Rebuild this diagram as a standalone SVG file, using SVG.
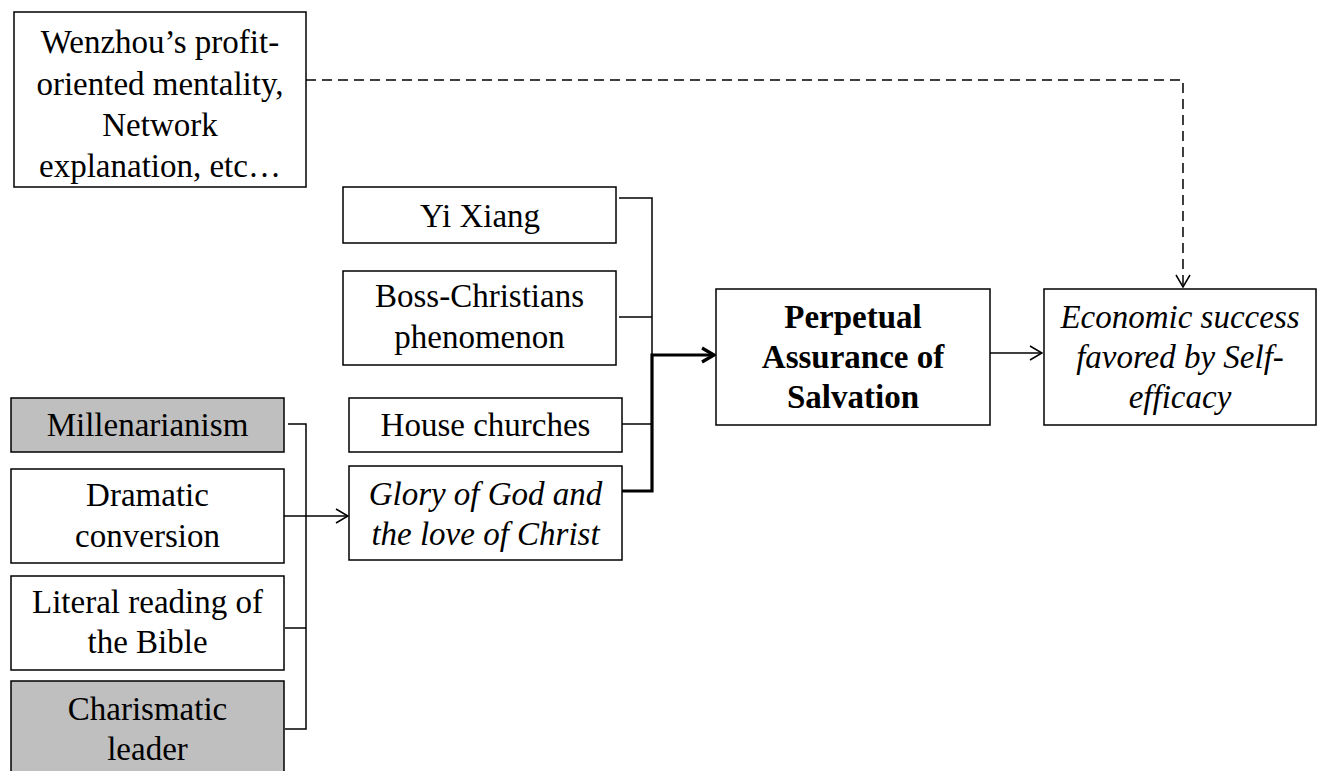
<svg xmlns="http://www.w3.org/2000/svg" width="1319" height="771" viewBox="0 0 1319 771">
<style>
.box{fill:#fff;stroke:#000;stroke-width:1.5}
.gray{fill:#bfbfbf}
.t{font-family:"Liberation Serif","Times New Roman",serif;font-size:33px;fill:#000;text-anchor:middle}
.b{font-weight:bold}
.i{font-style:italic}
.c{fill:none;stroke:#000;stroke-width:1.5}
.thick{fill:none;stroke:#000;stroke-width:3.2}
.dash{fill:none;stroke:#000;stroke-width:1.5;stroke-dasharray:10 6}
</style>
<defs>
<marker id="arr" markerUnits="userSpaceOnUse" viewBox="0 0 14 16" refX="13" refY="8" markerWidth="14" markerHeight="16" orient="auto"><path d="M1,1 L13,8 L1,15" fill="none" stroke="#000" stroke-width="1.5"/></marker>
<marker id="arrT" markerUnits="userSpaceOnUse" viewBox="0 0 16 18" refX="14" refY="9" markerWidth="16" markerHeight="18" orient="auto"><path d="M2,2 L14,9 L2,16" fill="none" stroke="#000" stroke-width="3.2"/></marker>
</defs>
<rect width="1319" height="771" fill="#fff"/>
<g id="connectors">
<path class="dash" d="M306,80 H1183 V287" marker-end="url(#arr)"/>
<path class="c" d="M619,198 H652 V355"/>
<path class="c" d="M619,317 H652"/>
<path class="c" d="M622,424 H652"/>
<path class="thick" d="M622,491 H652 V355 H714" marker-end="url(#arrT)"/>
<path class="c" d="M990,353 H1042" marker-end="url(#arr)"/>
<path class="c" d="M288,424 H306 V729 H285"/>
<path class="c" d="M285,628 H306"/>
<path class="c" d="M284,516 H348" marker-end="url(#arr)"/>
</g>
<g id="wenzhou">
<rect class="box" x="14" y="12" width="292" height="175"/>
<text class="t" x="160" y="53">Wenzhou’s profit-</text>
<text class="t" x="160" y="94.5">oriented mentality,</text>
<text class="t" x="160" y="136">Network</text>
<text class="t" x="160" y="177">explanation, etc…</text>
</g>
<g id="yixiang">
<rect class="box" x="343" y="187" width="273" height="56"/>
<text class="t" x="480" y="227">Yi Xiang</text>
</g>
<g id="boss">
<rect class="box" x="343" y="271" width="273" height="94"/>
<text class="t" x="479.5" y="307">Boss-Christians</text>
<text class="t" x="479.5" y="348">phenomenon</text>
</g>
<g id="house">
<rect class="box" x="349" y="398" width="273" height="54"/>
<text class="t" x="485.5" y="436">House churches</text>
</g>
<g id="glory">
<rect class="box" x="349" y="466" width="273" height="94"/>
<text class="t i" x="485.5" y="505">Glory of God and</text>
<text class="t i" x="485.5" y="545">the love of Christ</text>
</g>
<g id="perpetual">
<rect class="box" x="716" y="289" width="274" height="136"/>
<text class="t b" x="853" y="328">Perpetual</text>
<text class="t b" x="853" y="368">Assurance of</text>
<text class="t b" x="853" y="408">Salvation</text>
</g>
<g id="economic">
<rect class="box" x="1044" y="289" width="272" height="136"/>
<text class="t i" x="1180" y="328">Economic success</text>
<text class="t i" x="1180" y="368">favored by Self-</text>
<text class="t i" x="1180" y="408">efficacy</text>
</g>
<g id="millenarianism">
<rect class="box gray" x="11" y="398" width="273" height="54"/>
<text class="t" x="147.5" y="436">Millenarianism</text>
</g>
<g id="dramatic">
<rect class="box" x="11" y="469" width="273" height="94"/>
<text class="t" x="147.5" y="506">Dramatic</text>
<text class="t" x="147.5" y="547">conversion</text>
</g>
<g id="literal">
<rect class="box" x="11" y="576" width="273" height="94"/>
<text class="t" x="147.5" y="613">Literal reading of</text>
<text class="t" x="147.5" y="653">the Bible</text>
</g>
<g id="charismatic">
<rect class="box gray" x="11" y="681" width="273" height="100"/>
<text class="t" x="147.5" y="720">Charismatic</text>
<text class="t" x="147.5" y="760">leader</text>
</g>
</svg>
